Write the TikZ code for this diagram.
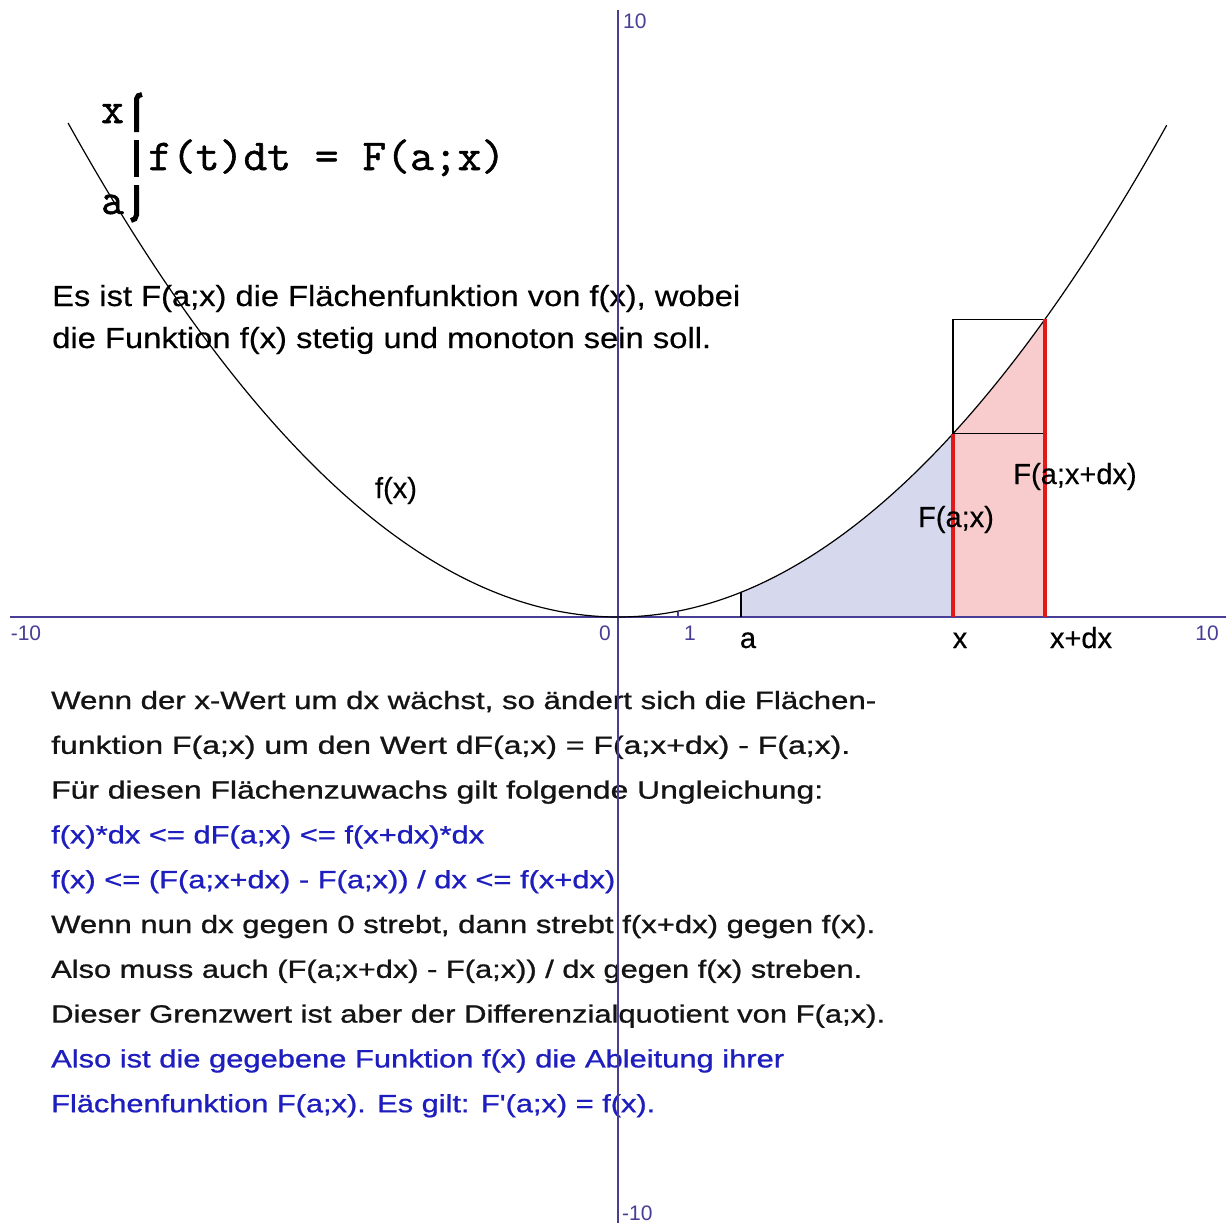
\documentclass[tikz,border=0pt]{standalone}
\usepackage{fontspec}
\usepackage{graphicx}
\setmainfont{Liberation Sans}
\newfontfamily\lowfont{Liberation Sans}[FakeBold=0.8]
\newfontfamily\topfont{Liberation Sans}[FakeBold=0.4]
\newfontfamily\monofont{Latin Modern Mono}[FakeBold=1.2]
\definecolor{axisblue}{RGB}{72,62,150}
\definecolor{txtblue}{RGB}{30,30,190}
\definecolor{fillblue}{RGB}{214,216,238}
\definecolor{fillred}{RGB}{248,204,204}
\definecolor{redline}{RGB}{225,25,25}
\definecolor{txtblack}{RGB}{20,20,20}
\newcommand\fitw[2]{\resizebox{#1pt}{\height}{#2}}
\tikzset{
  lowtxt/.style={anchor=base west, inner sep=0pt, font=\lowfont\fontsize{25}{30}\selectfont, text=txtblack},
  lowblue/.style={lowtxt, text=txtblue},
  toptxt/.style={anchor=base west, inner sep=0pt, font=\topfont\fontsize{29}{34}\selectfont, text=black},
  lbl/.style={anchor=base, inner sep=0pt, font=\topfont\fontsize{29}{34}\selectfont, text=black},
  axnum/.style={anchor=base, inner sep=0pt, font=\fontsize{21}{24}\selectfont, text=axisblue},
  monotxt/.style={anchor=base west, inner sep=0pt, font=\monofont\fontsize{44}{50}\selectfont, text=black},
  intbar/.style={line width=5pt, black},
  axisline/.style={line width=2pt, axisblue},
  curveline/.style={line width=1.2pt, black},
  redbar/.style={line width=3.5pt, redline},
  declare function={f(\t)=0.0985*\t*\t;}
}
\begin{document}
\begin{tikzpicture}[x=1pt, y=-1pt]
\useasboundingbox (0,0) rectangle (1226,1223);
\fill[white] (0,0) rectangle (1226,1223);

% plot region (math coordinates)
\begin{scope}[shift={(618pt,-617pt)}, x=60.3pt, y=60.3pt]
  \coordinate (A) at (2.04,0);
  \coordinate (X) at (5.556,0);
  \coordinate (XD) at (7.08,0);
  \fill[fillblue] (A) -- plot[domain=2.04:5.556, samples=60] (\x,{f(\x)}) -- (X) -- cycle;
  \fill[fillred] (X) -- plot[domain=5.556:7.08, samples=40] (\x,{f(\x)}) -- (XD) -- cycle;
  \coordinate (FX) at (5.556,{f(5.556)});
  \coordinate (FXD) at (7.08,{f(7.08)});
  \coordinate (FA) at (2.04,{f(2.04)});
\end{scope}

% texts
\node[toptxt] (t1) at (52,306) {\fitw{688}{Es ist F(a;x) die Flächenfunktion von f(x), wobei}};
\node[toptxt] (t2) at (52,348) {\fitw{659}{die Funktion f(x) stetig und monoton sein soll.}};

\node[lowtxt]  (l1)  at (51,709)   {\fitw{825}{Wenn der x-Wert um dx wächst, so ändert sich die Flächen-}};
\node[lowtxt]  (l2)  at (51,753.8) {\fitw{799}{funktion F(a;x) um den Wert dF(a;x) = F(a;x+dx) - F(a;x).}};
\node[lowtxt]  (l3)  at (51,798.6) {\fitw{772}{Für diesen Flächenzuwachs gilt folgende Ungleichung:}};
\node[lowblue] (l4)  at (51,843.4) {\fitw{433}{f(x)*dx <= dF(a;x) <= f(x+dx)*dx}};
\node[lowblue] (l5)  at (51,888.2) {\fitw{564}{f(x) <= (F(a;x+dx) - F(a;x)) / dx <= f(x+dx)}};
\node[lowtxt]  (l6)  at (51,933)   {\fitw{824}{Wenn nun dx gegen 0 strebt, dann strebt f(x+dx) gegen f(x).}};
\node[lowtxt]  (l7)  at (51,977.8) {\fitw{811}{Also muss auch (F(a;x+dx) - F(a;x)) / dx gegen f(x) streben.}};
\node[lowtxt]  (l8)  at (51,1022.6){\fitw{834}{Dieser Grenzwert ist aber der Differenzialquotient von F(a;x).}};
\node[lowblue] (l9)  at (51,1067.4){\fitw{733}{Also ist die gegebene Funktion f(x) die Ableitung ihrer}};
\node[lowblue] (l10) at (51,1112.2){\fitw{604}{Flächenfunktion F(a;x). Es gilt: F'(a;x) = f(x).}};

% integral
\node[monotxt] (intx) at (101,123) {x};
\node[monotxt] (inta) at (101,214) {a};
\node[monotxt] (intf) at (148,170) {\fitw{357}{f(t)dt = F(a;x)}};
\draw[intbar] (136.5,132) -- (136.5,99) to[out=90,in=180] (142,94.5);
\draw[intbar] (136.5,140) -- (136.5,177);
\draw[intbar] (136.5,185) -- (136.5,215) to[out=-90,in=0] (131,220.5);

% axes
\draw[axisline] (10,617) coordinate (xl) -- (1226,617) coordinate (xr);
\draw[axisline] (618,10) coordinate (yt) -- (618,1223) coordinate (yb);
\draw[axisline, line width=1.5pt] (678,617) coordinate (t1a) -- (678,612);

\node[axnum] (nxl) at (26,640) {-10};
\node[axnum] (n0) at (605,640) {0};
\node[axnum] (n1) at (690,640) {1};
\node[axnum] (nxr) at (1207,640) {10};
\node[axnum, anchor=base west] (nyt) at (623,29) {10};
\node[axnum, anchor=base west] (nyb) at (622,1220) {-10};

% rectangle, a-line
\draw[line width=1.3pt] (FX) rectangle (FXD);
\draw[line width=1.5pt] (A) -- (FA);

% curve
\begin{scope}[shift={(618pt,-617pt)}, x=60.3pt, y=60.3pt]
  \draw[curveline] plot[domain=-9.12:9.1, samples=240] (\x,{f(\x)});
\end{scope}

% red lines
\draw[redbar] (X) -- (FX);
\draw[redbar] (XD) -- (FXD);

% labels
\node[lbl] (lf) at (396,498) {f(x)};
\node[lbl] (lFx) at (956,527) {F(a;x)};
\node[lbl] (lFxd) at (1075,484) {F(a;x+dx)};
\node[lbl] (la) at (748,648) {a};
\node[lbl] (lx) at (960,648) {x};
\node[lbl] (lxd) at (1081,648) {x+dx};
\end{tikzpicture}
\end{document}
